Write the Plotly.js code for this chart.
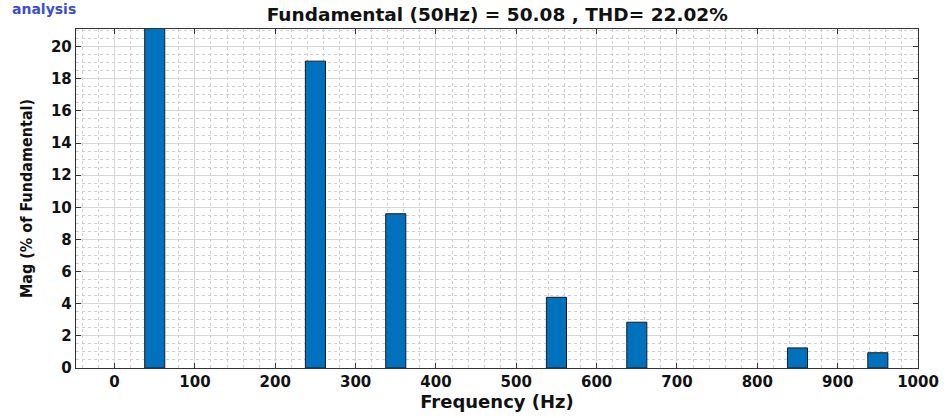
<!DOCTYPE html>
<html>
<head>
<meta charset="utf-8">
<script src="https://cdn.plot.ly/plotly-3.0.1.min.js"></script>
<style>html,body{margin:0;padding:0;background:#fff;}#chart{width:947px;height:418px;}</style>
</head>
<body>
<div id="chart"></div>
<script>
var frequencies = [50, 250, 350, 550, 650, 850, 950];
var magnitudes = [100, 19.1, 9.6, 4.4, 2.85, 1.25, 0.95];
var xTickVals = [0, 100, 200, 300, 400, 500, 600, 700, 800, 900, 1000];
var yTickVals = [0, 2, 4, 6, 8, 10, 12, 14, 16, 18, 20];
var titleText = "Fundamental (50Hz) = 50.08 , THD= 22.02%";

var font = "DejaVu Sans, Liberation Sans, Arial, sans-serif";
var trace = {
  type: "bar",
  x: frequencies,
  y: magnitudes,
  width: 25,
  marker: {color: "#0072BD", line: {color: "#1a1a1a", width: 1}},
  hoverinfo: "x+y"
};
var layout = {
  width: 947, height: 418,
  margin: {l: 76, r: 29, t: 29, b: 50},
  paper_bgcolor: "#fff", plot_bgcolor: "#fff",
  showlegend: false,
  title: {text: "<b>" + titleText + "</b>", font: {family: font, size: 18.5, color: "#111"}, x: 0.525, xanchor: "center", y: 0.965, yanchor: "middle"},
  xaxis: {
    range: [-48, 1000], tickvals: xTickVals, ticktext: xTickVals.map(String),
    ticks: "inside", ticklen: 5, tickcolor: "#333", mirror: "ticks",
    showline: true, linecolor: "#333", linewidth: 1.2,
    showgrid: true, gridcolor: "#d6d6d6", gridwidth: 1,
    minor: {dtick: 20, showgrid: true, gridcolor: "#cfcfcf", griddash: "dot", gridwidth: 1},
    zeroline: false,
    tickfont: {family: font, size: 15, color: "#111", weight: "bold"},
    title: {text: "<b>Frequency (Hz)</b>", font: {family: font, size: 18, color: "#111"}, standoff: 4}
  },
  yaxis: {
    range: [0, 21.1], tickvals: yTickVals, ticktext: yTickVals.map(String),
    ticks: "inside", ticklen: 5, tickcolor: "#333", mirror: "ticks",
    showline: true, linecolor: "#333", linewidth: 1.2,
    showgrid: true, gridcolor: "#d6d6d6", gridwidth: 1,
    minor: {dtick: 0.5, showgrid: true, gridcolor: "#cfcfcf", griddash: "dot", gridwidth: 1},
    zeroline: false,
    tickfont: {family: font, size: 15, color: "#111", weight: "bold"},
    title: {text: "<b>Mag (% of Fundamental)</b>", font: {family: "DejaVu Sans Condensed, " + font, size: 16, color: "#111"}, standoff: 14}
  },
  annotations: [{
    text: "<b>analysis</b>", xref: "paper", yref: "paper", x: -0.078, y: 1.088,
    xanchor: "left", yanchor: "top", showarrow: false,
    font: {family: font, size: 14, color: "#3b4fd0"}
  }]
};
Plotly.newPlot("chart", [trace], layout, {displayModeBar: false, staticPlot: true});
</script>
</body>
</html>
